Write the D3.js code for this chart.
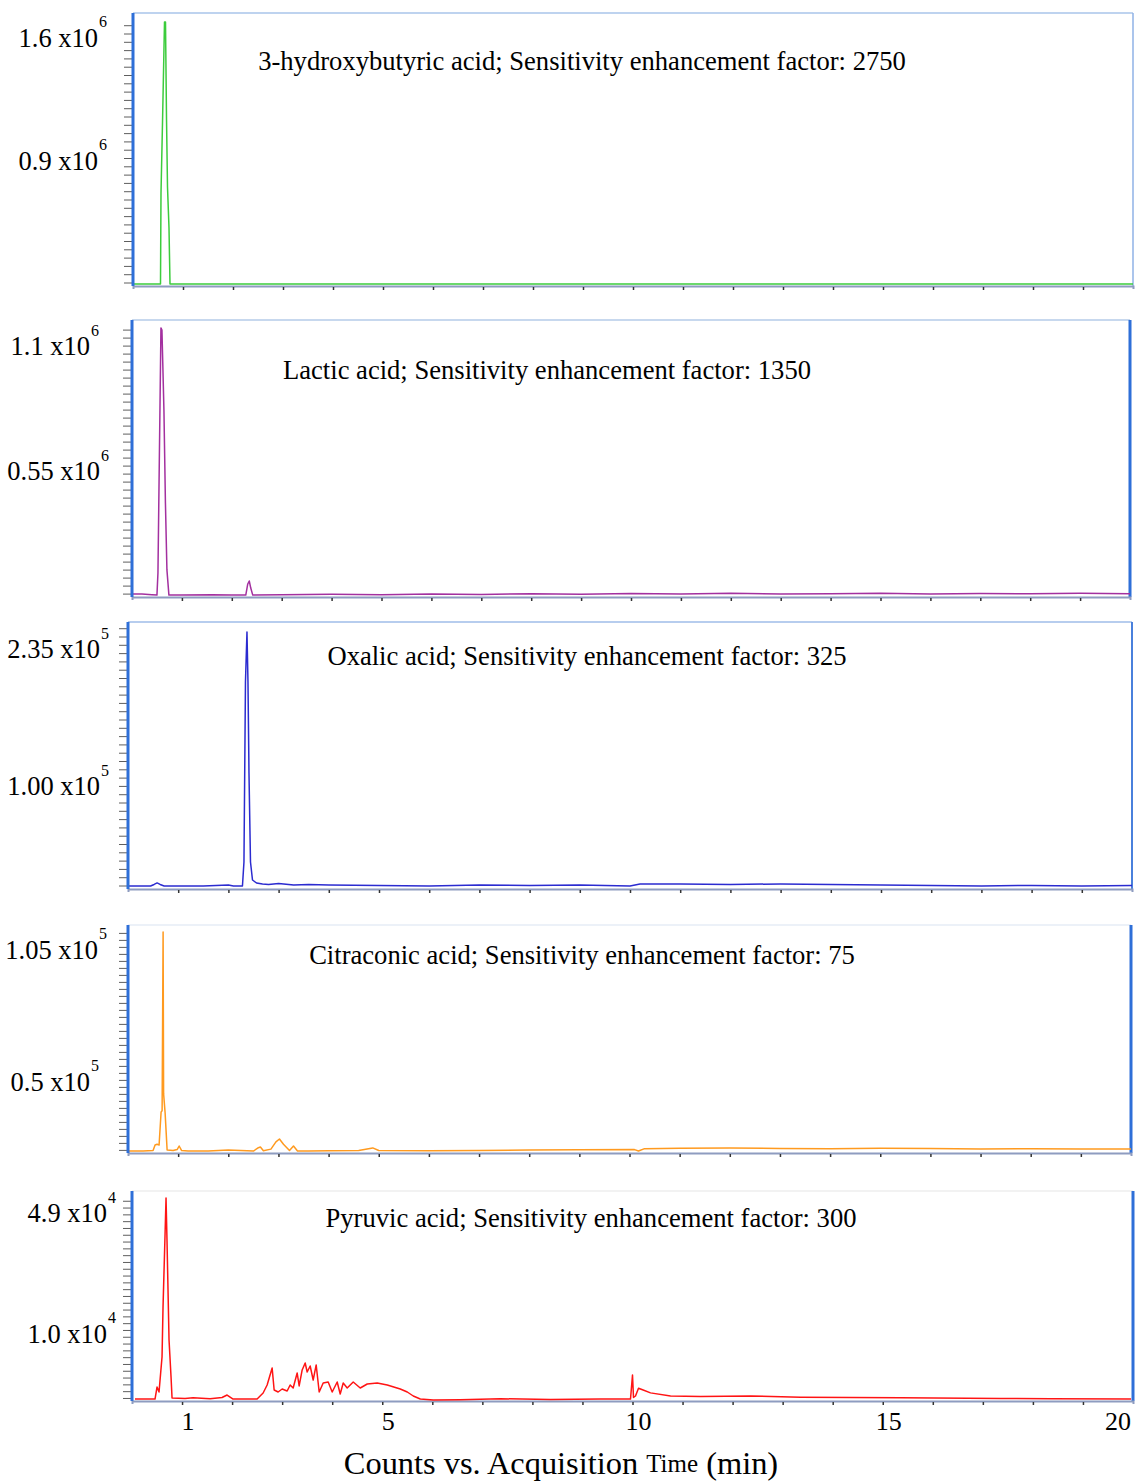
<!DOCTYPE html>
<html><head><meta charset="utf-8">
<script src="https://cdn.jsdelivr.net/npm/d3@7"></script>
<style>
body{margin:0;background:#fff}
svg{display:block}
text{font-family:"Liberation Serif","Times New Roman",serif;fill:#000}
</style>
</head><body>
<svg id="chart" width="1136" height="1481"></svg>
<script>
// ---------------- DATA ----------------
const compounds = ["3-hydroxybutyric acid","Lactic acid","Oxalic acid","Citraconic acid","Pyruvic acid"];
const enhancementFactors = [2750, 1350, 325, 75, 300];
const exponents = [6, 6, 5, 5, 4];
const yTickValues = [[1.6, 0.9],[1.1, 0.55],[2.35, 1.00],[1.05, 0.5],[4.9, 1.0]];
const yTickLabels = [["1.6 x10","0.9 x10"],["1.1 x10","0.55 x10"],["2.35 x10","1.00 x10"],["1.05 x10","0.5 x10"],["4.9 x10","1.0 x10"]];
const yDomains = [[0.194, 1.742],[0, 1.216],[0, 2.62],[0.208, 1.154],[-1.13, 5.61]];
const xDomain = [0, 20];
const xTickValues = [1, 5, 10, 15, 20];
const xTitle = ["Counts vs. Acquisition ", "Time", " (min)"];
const lineColors = ["#3ccc3c", "#a3309f", "#2b2bd0", "#ff9a1f", "#ff1414"];

// 3-hydroxybutyric acid (x10^6 counts)
const tHba = [0, 0.5, 0.55, 0.56, 0.59, 0.63, 0.65, 0.67, 0.69, 0.72, 0.74, 0.8, 5, 10, 15, 20];
const vHba = [0.2, 0.2, 0.2, 0.718, 1.116, 1.691, 1.691, 1.144, 0.752, 0.518, 0.2, 0.2, 0.2, 0.2, 0.2, 0.2];

// Lactic acid (x10^6 counts)
const tLac = [0, 0.2, 0.4, 0.5, 0.52, 0.56, 0.58, 0.60, 0.62, 0.64, 0.67, 0.70, 0.74, 1.0, 1.6, 2.0, 2.28, 2.32, 2.35, 2.38, 2.42, 3, 4, 5, 6, 7, 8, 9, 10, 11, 12, 13, 14, 15, 16, 17, 18, 19, 20];
const vLac = [0.009, 0.009, 0.006, 0.004, 0.101, 0.819, 1.181, 1.172, 0.996, 0.819, 0.41, 0.115, 0.004, 0.004, 0.006, 0.004, 0.004, 0.053, 0.066, 0.035, 0.004, 0.006, 0.008, 0.006, 0.009, 0.007, 0.01, 0.008, 0.011, 0.009, 0.012, 0.009, 0.01, 0.012, 0.009, 0.011, 0.01, 0.012, 0.01];

// Oxalic acid (x10^5 counts)
const tOxa = [0, 0.3, 0.45, 0.52, 0.58, 0.64, 0.72, 1.0, 1.5, 2.0, 2.1, 2.28, 2.31, 2.34, 2.37, 2.39, 2.41, 2.44, 2.48, 2.56, 2.68, 2.8, 3.0, 3.3, 3.6, 4, 5, 6, 7, 8, 9, 10, 10.2, 11, 12, 13, 14, 15, 16, 17, 18, 19, 20];
const vOxa = [0.02, 0.02, 0.02, 0.035, 0.05, 0.035, 0.02, 0.02, 0.02, 0.03, 0.02, 0.02, 0.256, 2.03, 2.522, 2.03, 1.133, 0.256, 0.079, 0.049, 0.039, 0.035, 0.045, 0.03, 0.035, 0.03, 0.025, 0.02, 0.03, 0.025, 0.03, 0.02, 0.04, 0.04, 0.035, 0.04, 0.035, 0.03, 0.025, 0.02, 0.025, 0.02, 0.025];

// Citraconic acid (x10^5 counts)
const tCit = [0, 0.3, 0.5, 0.54, 0.58, 0.62, 0.66, 0.68, 0.70, 0.71, 0.74, 0.78, 0.9, 0.98, 1.02, 1.07, 1.2, 1.6, 2.0, 2.5, 2.6, 2.64, 2.7, 2.85, 2.95, 3.02, 3.1, 3.22, 3.3, 3.38, 3.6, 4.0, 4.6, 4.88, 5.0, 6, 7, 8, 9, 10.1, 10.18, 10.3, 11, 12, 13, 14, 15, 16, 17, 18, 19, 20];
const vCit = [0.212, 0.212, 0.214, 0.237, 0.24, 0.237, 0.375, 0.38, 1.125, 0.45, 0.371, 0.216, 0.214, 0.218, 0.233, 0.214, 0.212, 0.212, 0.216, 0.212, 0.226, 0.229, 0.213, 0.22, 0.25, 0.262, 0.24, 0.214, 0.233, 0.212, 0.212, 0.213, 0.214, 0.225, 0.214, 0.213, 0.214, 0.216, 0.217, 0.218, 0.212, 0.222, 0.224, 0.225, 0.223, 0.222, 0.224, 0.223, 0.221, 0.222, 0.221, 0.221];

// Pyruvic acid (x10^4 counts)
const tPyr = [0.06, 0.46, 0.50, 0.54, 0.60, 0.62, 0.66, 0.68, 0.70, 0.74, 0.78, 0.80, 1.06, 1.22, 1.56, 1.80, 1.90, 2.02, 2.50, 2.62, 2.70, 2.80, 2.84, 2.92, 3.00, 3.10, 3.16, 3.22, 3.30, 3.34, 3.40, 3.46, 3.50, 3.56, 3.62, 3.68, 3.74, 3.82, 3.92, 4.00, 4.10, 4.16, 4.22, 4.30, 4.42, 4.56, 4.70, 4.90, 5.10, 5.36, 5.50, 5.62, 5.76, 6.02, 6.56, 7.36, 8.36, 9.36, 9.96, 10.0, 10.02, 10.06, 10.12, 10.2, 10.36, 10.76, 11.36, 12.36, 13.36, 15.36, 17.36, 18.36, 19.96];
const vPyr = [-1.098, -1.098, -0.711, -0.872, 0.257, 1.870, 4.193, 5.386, 3.967, 0.806, -0.388, -1.065, -1.08, -1.06, -1.09, -1.05, -0.969, -1.1, -1.098, -0.904, -0.646, -0.098, -0.807, -0.872, -0.775, -0.84, -0.646, -0.743, -0.259, -0.678, -0.162, 0.064, -0.227, -0.033, -0.485, 0.0, -0.872, -0.582, -0.549, -0.872, -0.549, -0.937, -0.582, -0.743, -0.549, -0.743, -0.614, -0.582, -0.646, -0.775, -0.872, -1.001, -1.098, -1.13, -1.12, -1.09, -1.11, -1.10, -1.10, -0.324, -1.05, -1.0, -0.75, -0.8, -0.9, -1.0, -1.02, -1.0, -1.04, -1.06, -1.08, -1.09, -1.1];

const seriesT = [tHba, tLac, tOxa, tCit, tPyr];
const seriesV = [vHba, vLac, vOxa, vCit, vPyr];

// ---------------- LAYOUT ----------------
const layout = [
  {top:13,  bottom:285,  left:133, right:1133, labEnd:[98,98],   titleX:582, titleY:61,   rightW:1.5, rightC:"#8fb2e6", topC:"#a9c4ea", minor:8.3},
  {top:320, bottom:596,  left:132, right:1130, labEnd:[90,100],  titleX:547, titleY:370,  rightW:3,   rightC:"#2e6fd8", topC:"#b4cbe9", minor:8.0},
  {top:622, bottom:888,  left:128, right:1132, labEnd:[100,100], titleX:587, titleY:656,  rightW:2,   rightC:"#4a80dc", topC:"#9fbde8", minor:8.3},
  {top:925, bottom:1152, left:128, right:1131, labEnd:[98,90],   titleX:582, titleY:955,  rightW:3,   rightC:"#2e6fd8", topC:"#e6edf6", minor:7.0},
  {top:1191,bottom:1400, left:132, right:1133, labEnd:[107,107], titleX:591, titleY:1218, rightW:3,   rightC:"#2e6fd8", topC:"#eeeeee", minor:6.8}
];

const svg = d3.select("#chart");

compounds.forEach((name, i) => {
  const L = layout[i];
  const x = d3.scaleLinear().domain(xDomain).range([L.left, L.right]);
  const y = d3.scaleLinear().domain(yDomains[i]).range([L.bottom, L.top]);
  const g = svg.append("g");

  // top border & right border
  g.append("line").attr("x1", L.left).attr("x2", L.right).attr("y1", L.top).attr("y2", L.top)
    .attr("stroke", L.topC).attr("stroke-width", 1.5);
  g.append("line").attr("x1", L.right).attr("x2", L.right).attr("y1", L.top).attr("y2", L.bottom + 1)
    .attr("stroke", L.rightC).attr("stroke-width", L.rightW);

  // minor ticks on left axis
  const k = (L.bottom - L.top) / (yDomains[i][1] - yDomains[i][0]);
  const step = L.minor / k;
  const minorVals = d3.range(yDomains[i][0] + step * 0.3, yDomains[i][1] - step * 0.5, step);
  const yAx = g.append("g").attr("transform", `translate(${L.left - 1},0)`)
    .call(d3.axisLeft(y).tickValues(minorVals).tickSize(8).tickFormat(""));
  yAx.select(".domain").remove();
  yAx.selectAll(".tick line").attr("stroke", "#5e5e5e").attr("stroke-width", 1);

  // bottom axis (ticks every minute)
  const xAx = g.append("g").attr("transform", `translate(0,${L.bottom + 1})`)
    .call(d3.axisBottom(x).tickValues(d3.range(1, 20)).tickSize(3).tickFormat(""));
  xAx.select(".domain").attr("stroke", "#8e9cc0").attr("stroke-width", 2);
  xAx.selectAll(".tick line").attr("stroke", "#333").attr("stroke-width", 1.5).attr("transform", "translate(0,1)");

  // trace
  const pts = seriesT[i].map((t, j) => [t, seriesV[i][j]]);
  g.append("path").datum(pts)
    .attr("fill", "none").attr("stroke", lineColors[i]).attr("stroke-width", 1.5)
    .attr("stroke-linejoin", "round")
    .attr("d", d3.line().x(d => x(d[0])).y(d => y(d[1])));

  // left thick blue bar
  g.append("line").attr("x1", L.left).attr("x2", L.left).attr("y1", L.top).attr("y2", L.bottom + 1)
    .attr("stroke", "#2e6fd8").attr("stroke-width", 3);

  // y labels
  yTickValues[i].forEach((v, j) => {
    const yy = y(v);
    g.append("text").attr("x", L.labEnd[j]).attr("y", yy)
      .attr("text-anchor", "end").attr("dominant-baseline", "central")
      .attr("font-size", 26.5).text(yTickLabels[i][j]);
    g.append("text").attr("x", L.labEnd[j] + 1).attr("y", yy - 16)
      .attr("text-anchor", "start").attr("dominant-baseline", "central")
      .attr("font-size", 16).text(exponents[i]);
  });

  // title
  g.append("text").attr("x", L.titleX).attr("y", L.titleY)
    .attr("text-anchor", "middle").attr("dominant-baseline", "central")
    .attr("font-size", 26.6)
    .text(`${name}; Sensitivity enhancement factor: ${enhancementFactors[i]}`);

  // x tick labels on last panel
  if (i === compounds.length - 1) {
    xTickValues.forEach((v, j) => {
      const last = j === xTickValues.length - 1;
      g.append("text").attr("x", last ? x(v) - 2 : x(v) + 6).attr("y", 1421)
        .attr("text-anchor", last ? "end" : "middle").attr("dominant-baseline", "central")
        .attr("font-size", 26).text(v);
    });
  }
});

// x-axis title
const tt = svg.append("text").attr("x", 561).attr("y", 1463)
  .attr("text-anchor", "middle").attr("dominant-baseline", "central").attr("font-size", 32.4);
tt.append("tspan").text(xTitle[0]);
tt.append("tspan").attr("font-size", 25).text(xTitle[1]);
tt.append("tspan").text(xTitle[2]);
</script>
</body></html>
